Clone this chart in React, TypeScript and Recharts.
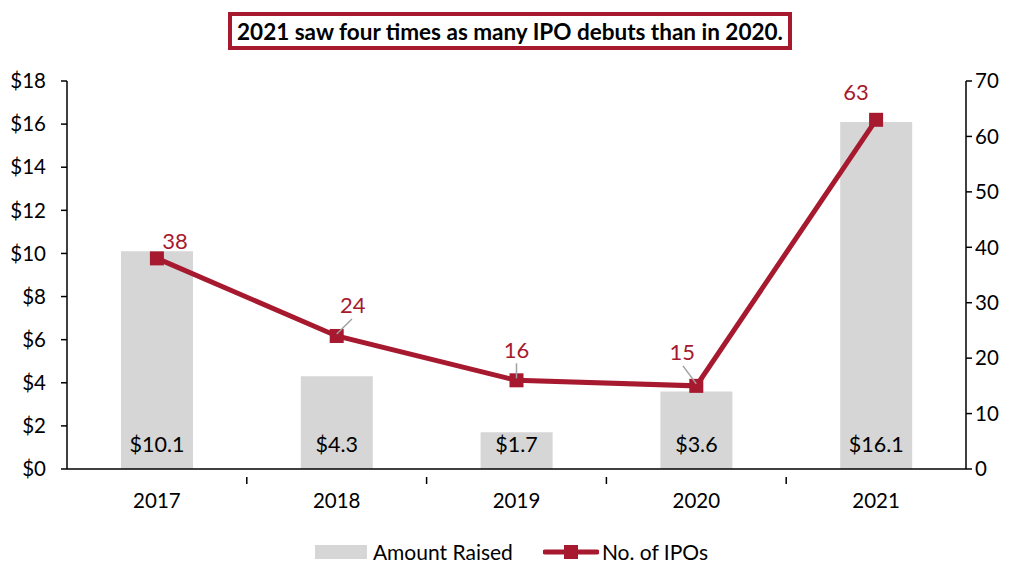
import { Bar, ComposedChart, LabelList, Line, XAxis, YAxis } from 'recharts';

const years = ['2017', '2018', '2019', '2020', '2021'];
const amountRaised = [10.1, 4.3, 1.7, 3.6, 16.1];
const ipoCounts = [38, 24, 16, 15, 63];
const leftTicks = [0, 2, 4, 6, 8, 10, 12, 14, 16, 18];
const rightTicks = [0, 10, 20, 30, 40, 50, 60, 70];

const RED = '#A6192E';
const GREY = '#D6D6D6';
const FONT = 'Lato, "Noto Sans", sans-serif';
const TICK_FONT = 20.5;

// label placement for the IPO count labels: [dx, dy, leader line?]
const countLabelPlacement: [number, number, boolean][] = [
  [18, -18, false],
  [16, -31, true],
  [0, -31, true],
  [-14, -34, true],
  [-20, -28, false],
];

const rows = years.map((year, i) => ({
  pos: i + 0.5,
  year,
  amount: amountRaised[i],
  count: ipoCounts[i],
}));

const xTicks: number[] = [];
for (let i = 0; i <= years.length * 2; i++) xTicks.push(i / 2);

function XTick(props: any) {
  const { x, y, payload } = props;
  const v = payload.value as number;
  if (Number.isInteger(v)) {
    if (v === 0 || v === years.length) return null;
    return <line x1={x} x2={x} y1={y} y2={y + 7} stroke="#000" strokeWidth={1.5} />;
  }
  return (
    <text x={x} y={y + 31} textAnchor="middle" fontSize={TICK_FONT} fontFamily={FONT} fill="#000">
      {years[Math.floor(v)]}
    </text>
  );
}

function SquareDot(props: any) {
  const { cx, cy } = props;
  if (cx == null || cy == null) return null;
  return <rect x={cx - 7} y={cy - 7} width={14} height={14} fill={RED} />;
}

function AmountLabel(props: any) {
  const { x, y, width, height, value } = props;
  return (
    <text
      x={x + width / 2}
      y={y + height - 25}
      textAnchor="middle"
      dominantBaseline="central"
      fontSize={21.5}
      fontFamily={FONT}
      fill="#000"
    >
      ${Number(value).toFixed(1)}
    </text>
  );
}

function CountLabel(props: any) {
  const { x, y, value, index } = props;
  const [dx, dy, leader] = countLabelPlacement[index];
  const lx = x + dx;
  const ly = y + dy;
  let lead = null;
  if (leader) {
    const ex = x + dx * 0.95;
    const ey = y + dy + 14;
    lead = <line x1={x} y1={y - 2} x2={ex} y2={ey} stroke="#A0A0A0" strokeWidth={1.5} />;
  }
  return (
    <g>
      {lead}
      <text
        x={lx}
        y={ly}
        textAnchor="middle"
        dominantBaseline="central"
        fontSize={22}
        fontFamily={FONT}
        fill={RED}
      >
        {value}
      </text>
    </g>
  );
}

export default function App() {
  return (
    <div style={{ position: 'absolute', left: 0, top: 0, width: 1023, height: 573, background: '#fff', fontFamily: FONT }}>
      <div
        style={{
          position: 'absolute',
          left: 228,
          top: 12,
          width: 564,
          height: 38,
          boxSizing: 'border-box',
          border: `4px solid ${RED}`,
          display: 'flex',
          alignItems: 'center',
          justifyContent: 'center',
          fontWeight: 700,
          fontSize: 22.5,
          color: '#000',
          whiteSpace: 'nowrap',
        }}
      >
        2021 saw four times as many IPO debuts than in 2020.
      </div>

      <ComposedChart
        width={1023}
        height={573}
        data={rows}
        margin={{ top: 81, right: 7, left: 7, bottom: 64 }}
      >
        <XAxis
          dataKey="pos"
          type="number"
          domain={[0, years.length]}
          ticks={xTicks}
          interval={0}
          tick={<XTick />}
          tickLine={false}
          axisLine={{ stroke: '#000', strokeWidth: 1.5 }}
          height={40}
          allowDecimals
        />
        <YAxis
          yAxisId="left"
          domain={[0, 18]}
          ticks={leftTicks}
          interval={0}
          width={60}
          tickSize={6}
          tickMargin={15}
          tickFormatter={(v) => `$${v}`}
          tick={{ fill: '#000', fontSize: TICK_FONT, fontFamily: FONT }}
          axisLine={{ stroke: '#000', strokeWidth: 1.5 }}
          tickLine={{ stroke: '#000', strokeWidth: 1.5 }}
        />
        <YAxis
          yAxisId="right"
          orientation="right"
          domain={[0, 70]}
          ticks={rightTicks}
          interval={0}
          width={50}
          tickSize={6}
          tickMargin={3}
          tick={{ fill: '#000', fontSize: TICK_FONT, fontFamily: FONT }}
          axisLine={{ stroke: '#000', strokeWidth: 1.5 }}
          tickLine={{ stroke: '#000', strokeWidth: 1.5 }}
        />
        <Bar yAxisId="left" dataKey="amount" fill={GREY} barSize={72} isAnimationActive={false}>
          <LabelList dataKey="amount" content={<AmountLabel />} />
        </Bar>
        <Line
          yAxisId="right"
          dataKey="count"
          stroke={RED}
          strokeWidth={5}
          dot={<SquareDot />}
          activeDot={false}
          isAnimationActive={false}
        >
          <LabelList dataKey="count" content={<CountLabel />} />
        </Line>
      </ComposedChart>

      <div
        style={{
          position: 'absolute',
          top: 539,
          left: 0,
          width: 1023,
          display: 'flex',
          justifyContent: 'center',
          alignItems: 'center',
          fontSize: 21,
          color: '#000',
        }}
      >
        <span style={{ display: 'inline-block', width: 52, height: 14, background: GREY, marginRight: 6 }} />
        <span>Amount Raised</span>
        <svg width={56} height={16} style={{ marginLeft: 30, marginRight: 3 }}>
          <line x1={2} x2={54} y1={8} y2={8} stroke={RED} strokeWidth={5} strokeLinecap="round" />
          <rect x={21} y={1} width={14} height={14} fill={RED} />
        </svg>
        <span>No. of IPOs</span>
      </div>
    </div>
  );
}
